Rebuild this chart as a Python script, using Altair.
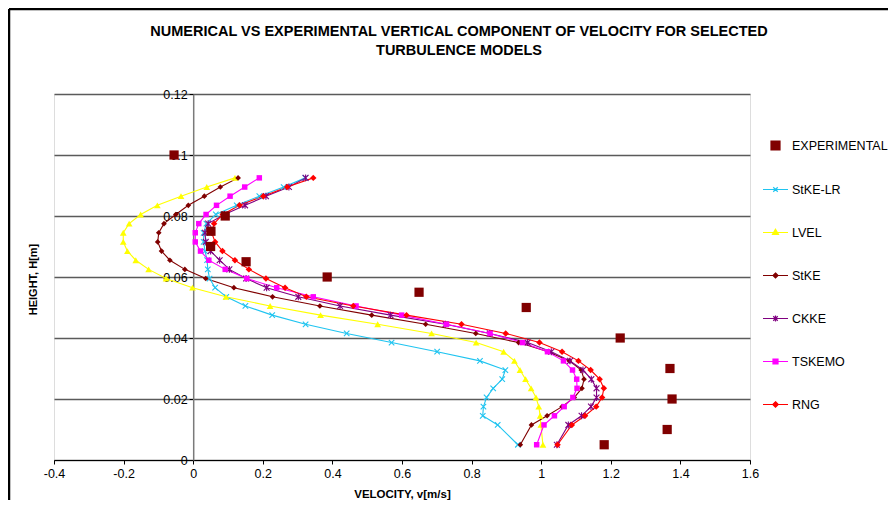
import altair as alt
import pandas as pd

# ---------------- data ----------------
H = [0.005, 0.0115, 0.0145, 0.0175, 0.0205, 0.0235, 0.0265, 0.0295, 0.0325, 0.0355,
     0.0385, 0.0415, 0.0445, 0.0475, 0.0505, 0.0535, 0.0565, 0.0595, 0.0625, 0.0655,
     0.0685, 0.0715, 0.0745, 0.0775, 0.0805, 0.0835, 0.0865, 0.0895, 0.0925]

STKE_LR = [0.933, 0.875, 0.832, 0.834, 0.843, 0.862, 0.888, 0.897, 0.824, 0.701,
           0.570, 0.441, 0.323, 0.227, 0.150, 0.095, 0.063, 0.047, 0.042, 0.040,
           0.034, 0.030, 0.030, 0.038, 0.065, 0.125, 0.190, 0.260, 0.322]
LVEL = [1.005, 0.999, 0.997, 0.993, 0.985, 0.971, 0.955, 0.939, 0.923, 0.892,
        0.813, 0.685, 0.530, 0.366, 0.221, 0.094, -0.002, -0.078, -0.128, -0.165,
        -0.189, -0.201, -0.201, -0.184, -0.151, -0.103, -0.035, 0.039, 0.120]
STKE = [0.940, 0.972, 1.017, 1.060, 1.095, 1.117, 1.123, 1.115, 1.081, 1.020,
        0.935, 0.812, 0.668, 0.513, 0.364, 0.228, 0.117, 0.036, -0.024, -0.067,
        -0.091, -0.102, -0.099, -0.084, -0.050, -0.014, 0.032, 0.078, 0.129]
CKKE = [1.045, 1.078, 1.116, 1.143, 1.159, 1.159, 1.144, 1.120, 1.083, 1.029,
        0.961, 0.852, 0.725, 0.567, 0.422, 0.302, 0.211, 0.152, 0.104, 0.076,
        0.050, 0.036, 0.034, 0.043, 0.090, 0.149, 0.209, 0.275, 0.323]
TSKEMO = [0.987, 1.008, 1.038, 1.066, 1.091, 1.103, 1.102, 1.090, 1.064, 1.018,
          0.946, 0.853, 0.728, 0.599, 0.468, 0.345, 0.240, 0.154, 0.092, 0.045,
          0.021, 0.006, 0.006, 0.016, 0.037, 0.067, 0.106, 0.148, 0.190]
RNG = [1.047, 1.088, 1.126, 1.158, 1.175, 1.180, 1.168, 1.142, 1.107, 1.060,
       0.995, 0.898, 0.771, 0.613, 0.460, 0.325, 0.264, 0.209, 0.160, 0.120,
       0.084, 0.063, 0.053, 0.060, 0.085, 0.133, 0.201, 0.270, 0.345]

EXP_V = [-0.055, 0.092, 0.051, 0.050, 0.152, 0.385, 0.649, 0.957, 1.227, 1.370, 1.376, 1.362, 1.181]
EXP_H = [0.100, 0.080, 0.075, 0.070, 0.065, 0.060, 0.055, 0.050, 0.040, 0.030, 0.020, 0.010, 0.005]

MODELS = ["StKE-LR", "LVEL", "StKE", "CKKE", "TSKEMO", "RNG"]
SERIES = [STKE_LR, LVEL, STKE, CKKE, TSKEMO, RNG]
COLORS = ["#1FC4F0", "#FFFF00", "#800000", "#800080", "#FF00FF", "#FF0000"]
EXP_COLOR = "#800000"

X_TICKS = [-0.4, -0.2, 0, 0.2, 0.4, 0.6, 0.8, 1.0, 1.2, 1.4, 1.6]
Y_TICKS = [0, 0.02, 0.04, 0.06, 0.08, 0.1, 0.12]

TITLE = ["NUMERICAL VS EXPERIMENTAL VERTICAL COMPONENT OF VELOCITY FOR SELECTED",
         "TURBULENCE MODELS"]

# marker styles (shape, filled, size)
X_PATH = "M-1,-1L1,1M-1,1L1,-1"
STAR_PATH = "M-1,-1L1,1M-1,1L1,-1M0,-1.2L0,1.2"
MARKERS = {
    "StKE-LR": (X_PATH, False, 30),
    "LVEL": ("triangle-up", True, 45),
    "StKE": ("diamond", True, 32),
    "CKKE": (STAR_PATH, False, 34),
    "TSKEMO": ("square", True, 30),
    "RNG": ("diamond", True, 42),
}

# legend symbols: line segment + marker
LEG_ENTRIES = ["EXPERIMENTAL"] + MODELS
LEG_COLORS = [EXP_COLOR] + COLORS
LEG_SHAPES = [
    "M-0.36,-0.36L0.36,-0.36L0.36,0.36L-0.36,0.36Z",
    "M-1,0L1,0M-0.18,-0.18L0.18,0.18M-0.18,0.18L0.18,-0.18",
    "M-1,0L1,0M0,-0.26L0.24,0.16L-0.24,0.16Z",
    "M-1,0L1,0M0,-0.2L0.2,0L0,0.2L-0.2,0Z",
    "M-1,0L1,0M-0.18,-0.18L0.18,0.18M-0.18,0.18L0.18,-0.18M0,-0.24L0,0.24",
    "M-1,0L1,0M-0.2,-0.2L0.2,-0.2L0.2,0.2L-0.2,0.2Z",
    "M-1,0L1,0M0,-0.22L0.22,0L0,0.22L-0.22,0Z",
]

# ---------------- tables ----------------
rows = []
for name, vals in zip(MODELS, SERIES):
    for i, (h, v) in enumerate(zip(H, vals)):
        rows.append({"model": name, "v": v, "h": h, "order": i})
df = pd.DataFrame(rows)
exp_df = pd.DataFrame({"v": EXP_V, "h": EXP_H})
leg_df = pd.DataFrame({"entry": LEG_ENTRIES})

FONT = "Liberation Sans"
W, HGT = 696, 366
X0_OFFSET = -W * 0.4 / 2.0  # move y axis to x = 0

x_enc = alt.X(
    "v:Q",
    scale=alt.Scale(domain=[-0.4, 1.6], nice=False, zero=False),
    axis=alt.Axis(
        values=X_TICKS,
        labelExpr="toString(round(datum.value*10)/10)",
        title="VELOCITY, v[m/s]",
        titleFont=FONT, titleFontSize=11.5, titleFontWeight="bold", titleColor="black",
        titlePadding=9,
        labelFont=FONT, labelFontSize=12.5, labelColor="black", labelPadding=3,
        labelFlush=False,
        grid=False, domainColor="black", domainWidth=1.2,
        tickColor="black", tickSize=4, tickWidth=1,
    ),
)
y_enc = alt.Y(
    "h:Q",
    scale=alt.Scale(domain=[0, 0.12], nice=False, zero=True),
    axis=alt.Axis(
        values=Y_TICKS,
        labelExpr="toString(round(datum.value*100)/100)",
        offset=X0_OFFSET,
        title="HEIGHT, H[m]",
        titleFont=FONT, titleFontSize=11, titleFontWeight="bold", titleColor="black",
        titleX=-160, titleY=185, titleAngle=-90, titleBaseline="middle", titleAlign="center",
        labelFont=FONT, labelFontSize=12.5, labelColor="black", labelPadding=2,
        labelFlush=False, labelOverlap=False,
        grid=True, gridColor="#5a5a5a", gridWidth=1.4,
        domainColor="#7a7a7a", domainWidth=1.5,
        tickColor="black", tickSize=4, tickWidth=1,
    ),
)

layers = []
# lines
for name, col in zip(MODELS, COLORS):
    layers.append(
        alt.Chart(df[df.model == name]).mark_line(color=col, strokeWidth=1.1)
        .encode(x=x_enc, y=y_enc, order="order:Q")
    )
# markers
for name, col in zip(MODELS, COLORS):
    shape, filled, size = MARKERS[name]
    layers.append(
        alt.Chart(df[df.model == name]).mark_point(
            shape=shape, filled=filled, size=size, color=col, opacity=1,
            strokeWidth=1.1,
        ).encode(x=x_enc, y=y_enc)
    )
# experimental
layers.append(
    alt.Chart(exp_df).mark_point(shape="square", filled=True, size=85, color=EXP_COLOR, opacity=1)
    .encode(x=x_enc, y=y_enc)
)

# legend helper layer (symbols positioned off-canvas and clipped, only legend shown)
leg = alt.Legend(
    title=None, orient="none", legendX=708, legendY=38,
    symbolSize=625, symbolStrokeWidth=1.2, symbolOpacity=1,
    labelFont=FONT, labelFontSize=12.5, labelColor="black", labelOffset=3,
    rowPadding=23, padding=0, labelLimit=300,
)
layers.append(
    alt.Chart(leg_df).mark_point(filled=True, opacity=1, strokeWidth=1.2, clip=True).encode(
        x=alt.value(-3000), y=alt.value(-3000),
        fill=alt.Fill("entry:N", scale=alt.Scale(domain=LEG_ENTRIES, range=LEG_COLORS), legend=leg, sort=LEG_ENTRIES),
        stroke=alt.Stroke("entry:N", scale=alt.Scale(domain=LEG_ENTRIES, range=LEG_COLORS), legend=leg, sort=LEG_ENTRIES),
        shape=alt.Shape("entry:N", scale=alt.Scale(domain=LEG_ENTRIES, range=LEG_SHAPES), legend=leg, sort=LEG_ENTRIES),
    )
)

# outer frame of the chart (decoration)
layers.append(
    alt.Chart(leg_df.head(1)).mark_rule(color="black", strokeWidth=2.5).encode(
        x=alt.value(-45), y=alt.value(-85), y2=alt.value(700)
    )
)
layers.append(
    alt.Chart(leg_df.head(1)).mark_rule(color="black", strokeWidth=2.5).encode(
        x=alt.value(-45), x2=alt.value(1200), y=alt.value(-85)
    )
)

chart = alt.layer(*layers).properties(
    width=W, height=HGT,
    title=alt.TitleParams(
        text=TITLE, font=FONT, fontSize=14.5, fontWeight="bold", color="black",
        anchor="middle", frame="group", dx=57, offset=-51, lineHeight=19,
    ),
    autosize=alt.AutoSizeParams(type="none"),
    padding={"left": 46, "top": 86, "right": 138, "bottom": 40},
).configure_view(stroke="#404040", strokeWidth=1.2).configure(background="white")

chart.save("out.html", embed_options={"renderer": "svg", "actions": False})
